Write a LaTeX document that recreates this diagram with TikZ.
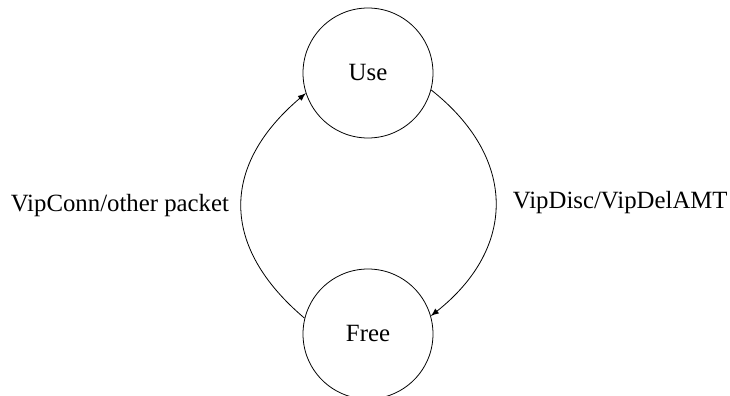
\documentclass[tikz,border=0pt]{standalone}
\usepackage{fontspec}
\setmainfont{Liberation Serif}
\begin{document}
\begin{tikzpicture}[x=0.5pt,y=-0.5pt,
  state/.style={draw,circle,inner sep=0pt,minimum size=65pt},
  every node/.style={font=\fontsize{12.4}{14}\selectfont}]
\useasboundingbox (0,0) rectangle (730,396);
\node[state] (use) at (368,73) {Use};
\node[state] (free) at (368,334) {Free};
\draw[-latex] (free.166) .. controls +(-85,-72) and +(-85,72) .. (use.198)
  node[midway,left=6pt,inner sep=0pt] (conn) {VipConn/other packet};
\draw[-latex] (use.345) .. controls +(86,68) and +(86,-68) .. (free.16)
  node[midway,right=8.5pt,inner sep=0pt] (disc) {VipDisc/VipDelAMT};
\end{tikzpicture}
\end{document}
